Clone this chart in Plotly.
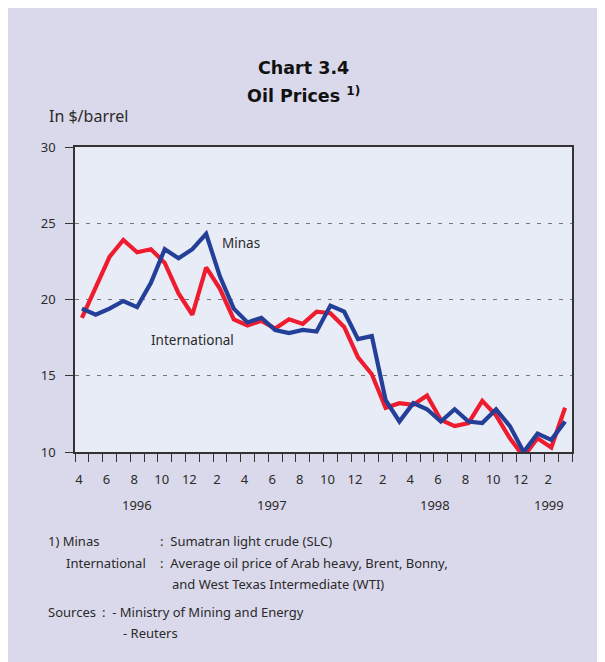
import plotly.graph_objects as go

# ---------------- data ----------------
month_labels = ["4", "6", "8", "10", "12", "2", "4", "6", "8", "10", "12", "2",
                "4", "6", "8", "10", "12", "2"]
years = ["1996", "1997", "1998", "1999"]
year_pos = [4.0, 13.8, 25.6, 33.8]          # month-index position of year labels

minas = [19.4, 19.0, 19.4, 19.9, 19.5, 21.1, 23.3, 22.7, 23.3, 24.3, 21.5, 19.4,
         18.5, 18.8, 18.0, 17.8, 18.0, 17.9, 19.6, 19.2, 17.4, 17.6, 13.4, 12.0,
         13.2, 12.8, 12.0, 12.8, 12.0, 11.9, 12.8, 11.7, 10.0, 11.2, 10.8, 12.0]
international = [18.8, 20.8, 22.8, 23.9, 23.1, 23.3, 22.4, 20.4, 19.0, 22.1, 20.7, 18.7,
                 18.3, 18.6, 18.1, 18.7, 18.4, 19.2, 19.1, 18.2, 16.2, 15.1, 12.9, 13.2,
                 13.1, 13.7, 12.1, 11.7, 11.9, 13.35, 12.4, 10.9, 9.7, 10.9, 10.3, 12.9]
months = list(range(len(minas)))  # Apr 1996 .. Mar 1999

# ---------------- layout geometry (page has an 8px body margin) ----------------
OFF = 8
W_FIG, H_FIG = 597, 654
L, R, T, B = 67, 33, 139, 210
PW = W_FIG - L - R
PH = H_FIG - T - B

def px(x):   # screen x -> paper x
    return (x - OFF - L) / PW

def py(y):   # screen y -> paper y
    return (T + PH - (y - OFF)) / PH

FONT = "Noto Sans"
TFONT = "DejaVu Sans"
TXT = "#2a2a2a"
RED = "#ee1c2e"
BLUE = "#233f98"
OUTER = "#dad9eb"
INNER = "#e8ecf7"

fig = go.Figure()
fig.add_trace(go.Scatter(x=months, y=international, mode="lines", name="International",
                         line=dict(color=RED, width=4.2), hoverinfo="skip"))
fig.add_trace(go.Scatter(x=months, y=minas, mode="lines", name="Minas",
                         line=dict(color=BLUE, width=4.2), hoverinfo="skip"))

boundaries = [i - 0.5 for i in range(len(minas) + 1)]

fig.update_layout(
    width=W_FIG, height=H_FIG,
    margin=dict(l=L, r=R, t=T, b=B, pad=0),
    paper_bgcolor=OUTER,
    plot_bgcolor=INNER,
    showlegend=False,
    font=dict(family=FONT, size=13, color=TXT),
    xaxis=dict(
        range=[-0.5, len(minas) - 0.5],
        tickmode="array",
        tickvals=list(range(0, len(minas), 2)),
        ticktext=month_labels,
        ticks="",
        ticklabelshift=-3,
        ticklabelstandoff=15,
        showgrid=False, zeroline=False,
        showline=True, mirror=True, linecolor="#333333", linewidth=1.5,
        tickfont=dict(family=FONT, size=13, color=TXT),
        minor=dict(tickmode="array", tickvals=boundaries, ticks="outside",
                   ticklen=8, tickwidth=1.3, tickcolor="#333333", showgrid=False),
    ),
    yaxis=dict(
        range=[10, 30],
        tickmode="array", tickvals=[10, 15, 20, 25, 30],
        ticks="outside", ticklen=8, tickwidth=1.3, tickcolor="#333333",
        showgrid=True, gridcolor="#777777", gridwidth=1.3, griddash="4px,7px",
        zeroline=False,
        showline=True, mirror=True, linecolor="#333333", linewidth=1.5,
        tickfont=dict(family=FONT, size=13, color=TXT),
        ticklabelstandoff=7,
    ),
)

ann = []
def add_text(x, y, text, size=13, bold=False, anchor="left", xref="paper", yref="paper", family=FONT):
    ann.append(dict(x=x, y=y, xref=xref, yref=yref, text=("<b>%s</b>" % text) if bold else text,
                    showarrow=False, xanchor=anchor, yanchor="middle",
                    font=dict(family=family, size=size, color="#111111" if bold else TXT)))

# titles
add_text(px(303), py(68), "Chart 3.4", size=17.5, bold=True, anchor="center", family=TFONT)
add_text(px(303), py(95), "Oil Prices <sup>1)</sup>", size=17.5, bold=True, anchor="center", family=TFONT)
add_text(px(47), py(116), "In $/barrel", size=16)

# series labels
add_text(11.5, 23.7, "Minas", size=13.5, anchor="center", xref="x", yref="y")
add_text(8.0, 17.35, "International", size=13.5, anchor="center", xref="x", yref="y")

# year labels
for yr, pos in zip(years, year_pos):
    add_text(pos, py(505), yr, size=13, anchor="center", xref="x")

# footnotes
add_text(px(46), py(541), "1) Minas", size=13)
add_text(px(158), py(541), ":  Sumatran light crude (SLC)", size=13)
add_text(px(64), py(563), "International", size=13)
add_text(px(158), py(563), ":  Average oil price of Arab heavy, Brent, Bonny,", size=13)
add_text(px(170), py(584), "and West Texas Intermediate (WTI)", size=13)
add_text(px(46), py(612), "Sources", size=13)
add_text(px(100), py(612), ":  - Ministry of Mining and Energy", size=13)
add_text(px(121), py(633), "- Reuters", size=13)

fig.update_layout(annotations=ann)
fig.write_html("out.html")
